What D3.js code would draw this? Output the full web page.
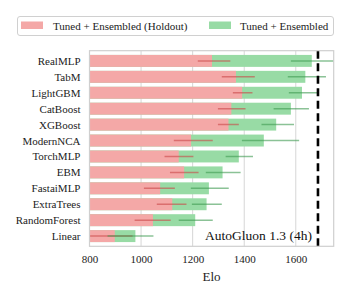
<!DOCTYPE html>
<html><head><meta charset="utf-8">
<script src="https://cdn.jsdelivr.net/npm/d3@7"></script>
<style>body{margin:0;background:#fff}svg{display:block}</style>
</head><body>
<script>
const categories = ["RealMLP","TabM","LightGBM","CatBoost","XGBoost","ModernNCA","TorchMLP","EBM","FastaiMLP","ExtraTrees","RandomForest","Linear"];
const holdout = [1275,1368,1392,1350,1339,1194,1146,1167,1074,1121,1046,898];
const holdoutLo = [1220,1313,1356,1298,1298,1127,1091,1112,1011,1061,975,790];
const holdoutHi = [1346,1441,1432,1405,1379,1278,1203,1223,1131,1176,1115,967];
const full = [1662,1637,1624,1581,1524,1476,1379,1316,1263,1254,1210,978];
const fullLo = [1581,1569,1573,1514,1467,1391,1328,1251,1193,1197,1146,870];
const fullHi = [1760,1717,1686,1651,1593,1613,1434,1386,1340,1313,1278,1048];
const xTicks = [800,1000,1200,1400,1600];
const autogluon = 1686;
const seriesNames = ["Tuned + Ensembled (Holdout)","Tuned + Ensembled"];

const W=349,H=299;
const m={l:89.5,r:W-333.7,t:50.7,b:H-246.3};
const svg=d3.select("body").append("svg").attr("width",W).attr("height",H);
const x=d3.scaleLinear().domain([800,1747]).range([m.l,W-m.r]);
const y=d3.scalePoint().domain(categories).range([m.t,H-m.b]).padding(0.64);
const bh=y.step()*0.75;
const font="'Liberation Serif','DejaVu Serif',serif";
const pink="#f4a8a7", green="#98dba5", pinkErr="#c94848", greenErr="#3d9a50";

svg.append("defs").append("clipPath").attr("id","c").append("rect")
  .attr("x",m.l).attr("y",m.t).attr("width",W-m.r-m.l).attr("height",H-m.b-m.t);

const g=svg.append("g");
g.selectAll(".grid").data(xTicks).join("line")
  .attr("x1",d=>x(d)).attr("x2",d=>x(d)).attr("y1",m.t).attr("y2",H-m.b)
  .attr("stroke","#d6d6d6").attr("stroke-width",1);

const pg=g.append("g").attr("clip-path","url(#c)");
pg.selectAll(".gb").data(categories).join("rect")
  .attr("x",x(800)).attr("y",d=>y(d)-bh/2).attr("height",bh)
  .attr("width",(d,i)=>x(full[i])-x(800)).attr("fill",green);
pg.selectAll(".pb").data(categories).join("rect")
  .attr("x",x(800)).attr("y",d=>y(d)-bh/2).attr("height",bh)
  .attr("width",(d,i)=>x(holdout[i])-x(800)).attr("fill",pink);
pg.selectAll(".pe").data(categories).join("line")
  .attr("x1",(d,i)=>x(holdoutLo[i])).attr("x2",(d,i)=>x(holdoutHi[i]))
  .attr("y1",d=>y(d)).attr("y2",d=>y(d)).attr("stroke",pinkErr).attr("stroke-width",1.5).attr("stroke-opacity",0.6);
pg.selectAll(".ge").data(categories).join("line")
  .attr("x1",(d,i)=>x(fullLo[i])).attr("x2",(d,i)=>x(fullHi[i]))
  .attr("y1",d=>y(d)).attr("y2",d=>y(d)).attr("stroke",greenErr).attr("stroke-width",1.5).attr("stroke-opacity",0.6);

g.append("line").attr("x1",x(autogluon)).attr("x2",x(autogluon)).attr("y1",m.t).attr("y2",H-m.b)
  .attr("stroke","#000").attr("stroke-width",2.6).attr("stroke-dasharray","8,4.5");
g.append("text").attr("x",x(autogluon)-6).attr("y",240).attr("text-anchor","end")
  .attr("font-family",font).attr("font-size",13.5).attr("fill","#111").text("AutoGluon 1.3 (4h)");

g.append("rect").attr("x",m.l).attr("y",m.t).attr("width",W-m.r-m.l).attr("height",H-m.b-m.t)
  .attr("fill","none").attr("stroke","#cfcfcf").attr("stroke-width",1.2);

const xa=svg.append("g").attr("transform",`translate(0,${H-m.b})`)
  .call(d3.axisBottom(x).tickValues(xTicks).tickFormat(d3.format("d")).tickSize(0).tickPadding(9));
xa.select(".domain").remove();
xa.selectAll("text").attr("font-family",font).attr("font-size",11).attr("fill","#222");
svg.append("text").attr("x",(m.l+W-m.r)/2).attr("y",281).attr("text-anchor","middle")
  .attr("font-family",font).attr("font-size",13).attr("fill","#222").text("Elo");

const ya=svg.append("g").attr("transform",`translate(${m.l},0)`)
  .call(d3.axisLeft(y).tickSize(0).tickPadding(9));
ya.select(".domain").remove();
ya.selectAll("text").attr("font-family",font).attr("font-size",11).attr("fill","#222");

const lg=svg.append("g");
lg.append("rect").attr("x",17.5).attr("y",16.5).attr("width",316).attr("height",19).attr("rx",2.5)
  .attr("fill","#fff").attr("stroke","#d0d0d0").attr("stroke-width",1);
const li=[{c:pink,x:21,tx:53},{c:green,x:209,tx:240}];
li.forEach((d,i)=>{
  lg.append("rect").attr("x",d.x).attr("y",21.5).attr("width",22).attr("height",7.5).attr("fill",d.c);
  lg.append("text").attr("x",d.tx).attr("y",29.5).attr("font-family",font).attr("font-size",11).attr("fill","#222").text(seriesNames[i]);
});
</script>
</body></html>
